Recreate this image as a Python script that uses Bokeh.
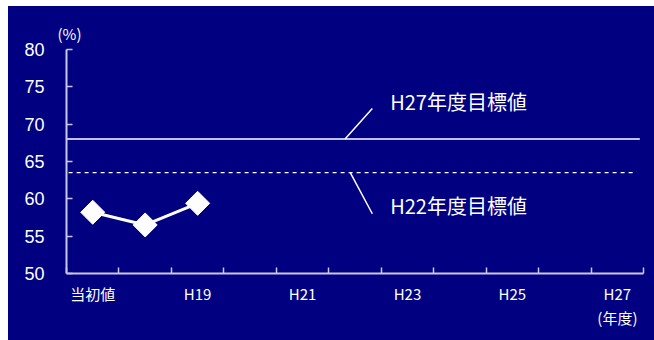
import math
from bokeh.plotting import figure
from bokeh.models import FixedTicker, Label, Range1d, Spacer, Title
from bokeh.layouts import column, row
from bokeh.embed import file_html
from bokeh.resources import INLINE

# ---- data ----
categories = ["当初値", "H18", "H19", "H20", "H21", "H22", "H23", "H24", "H25", "H26", "H27"]
tick_labels = ["当初値", "", "H19", "", "H21", "", "H23", "", "H25", "", "H27"]
rate_values = [58.2, 56.5, 59.4]          # measured values (%)
target_h27 = 68.0                          # H27年度目標値
target_h22 = 63.5                          # H22年度目標値
y_ticks = [50, 55, 60, 65, 70, 75, 80]

NAVY = "#000080"
AXIS = "#c8c8e6"
WHITE = "#ffffff"
CJK = "Noto Sans CJK JP"

n = len(categories)
centers = [i + 0.5 for i in range(n)]
xs = centers[:len(rate_values)]

p = figure(width=646, height=334, output_backend="svg", toolbar_location=None,
           x_range=Range1d(0, n), y_range=Range1d(50, 80),
           min_border_left=58, min_border_right=11, min_border_top=43, min_border_bottom=67)
p.background_fill_color = NAVY
p.border_fill_color = NAVY
p.outline_line_color = None
p.grid.visible = False
p.styles = {"background-color": NAVY}

# unit labels as titles (outside the frame)
p.add_layout(Title(text="(%)", align="left", offset=-9, standoff=12, text_color=WHITE,
                   text_font=CJK, text_font_size="15px", text_font_style="normal"), "above")
p.add_layout(Title(text="(年度)", align="right", offset=6, standoff=-4, text_color=WHITE,
                   text_font=CJK, text_font_size="15px", text_font_style="normal"), "below")

# x axis: labels at category centres, ticks at boundaries (minor ticks)
xa = p.xaxis[0]
xa.ticker = FixedTicker(ticks=centers, minor_ticks=list(range(n + 1)))
xa.major_label_overrides = {c: lab for c, lab in zip(centers, tick_labels)}
xa.major_tick_in = 0
xa.major_tick_out = 0
xa.minor_tick_in = 6
xa.minor_tick_out = 0
xa.minor_tick_line_color = AXIS
xa.minor_tick_line_width = 1.5
xa.axis_line_color = AXIS
xa.axis_line_width = 2
xa.major_label_text_color = WHITE
xa.major_label_text_font = CJK
xa.major_label_text_font_size = "15px"
xa.major_label_standoff = 9

ya = p.yaxis[0]
ya.ticker = FixedTicker(ticks=y_ticks)
ya.minor_tick_line_color = None
ya.major_tick_in = 6
ya.major_tick_out = 0
ya.major_tick_line_color = AXIS
ya.major_tick_line_width = 1.5
ya.axis_line_color = AXIS
ya.axis_line_width = 2
ya.major_label_text_color = WHITE
ya.major_label_text_font = "Liberation Sans"
ya.major_label_text_font_size = "18px"
ya.major_label_standoff = 22

# target lines
p.line([0, 10.93], [target_h27, target_h27], line_color=WHITE, line_width=1.5)
p.line([0.04, 10.86], [target_h22, target_h22], line_color=WHITE, line_width=1.2, line_dash="4 4")

# leader lines
p.segment(x0=[5.31, 5.41], y0=[target_h27, target_h22], x1=[5.83, 5.83], y1=[72.1, 58.0],
          line_color=WHITE, line_width=1.5)

p.add_layout(Label(x=6.17, y=73.0, text="H27年度目標値", text_color=WHITE, text_font=CJK,
                   text_font_size="20px", text_baseline="middle", text_align="left"))
p.add_layout(Label(x=6.17, y=59.1, text="H22年度目標値", text_color=WHITE, text_font=CJK,
                   text_font_size="20px", text_baseline="middle", text_align="left"))

# series
p.line(xs, rate_values, line_color=WHITE, line_width=3)
p.scatter(xs, rate_values, marker="square", size=17, angle=math.pi / 4,
          fill_color=WHITE, line_color=WHITE)

layout = column(Spacer(height=6), row(Spacer(width=8), p))
open("out.html", "w").write(file_html(layout, INLINE))
